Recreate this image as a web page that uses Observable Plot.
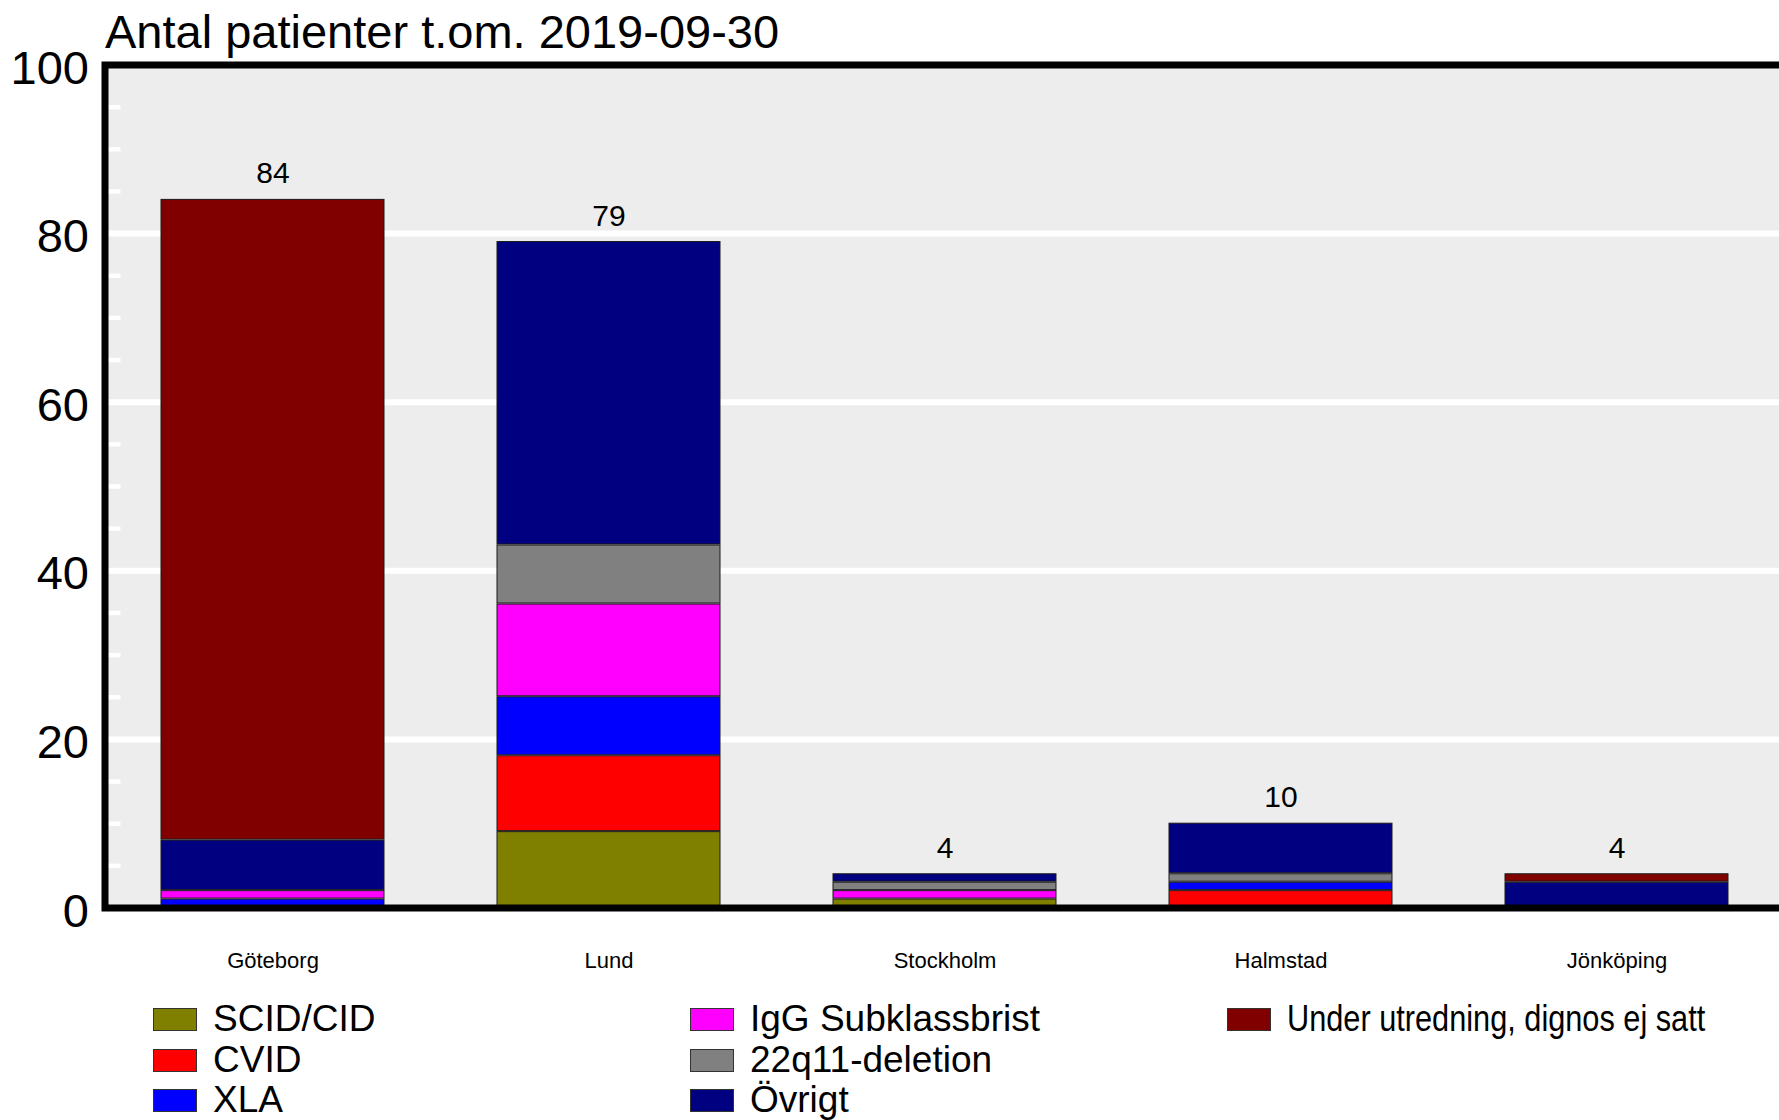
<!DOCTYPE html>
<html><head><meta charset="utf-8">
<script src="https://cdn.jsdelivr.net/npm/d3@7"></script>
<script src="https://cdn.jsdelivr.net/npm/@observablehq/plot@0.6"></script>
<style>
body{margin:0;overflow:hidden;background:#fff;font-family:"Liberation Sans",Arial,sans-serif;color:#000;}
#title{height:52px;box-sizing:border-box;padding-top:8px;padding-left:105px;font-size:47px;line-height:47px;white-space:nowrap;}
#legend{position:relative;height:135px;}
.item{position:absolute;height:40px;display:flex;align-items:center;font-size:37px;white-space:nowrap;}
.sw{width:44px;height:23px;box-sizing:border-box;border:1px solid #333;margin-right:16px;flex:none;}
.lbl{display:inline-block;transform-origin:left center;}
</style></head><body>
<div id="title"></div>
<div id="chart"></div>
<div id="legend"></div>
<script>
const chartTitle = "Antal patienter t.om. 2019-09-30";
const categories = ["Göteborg", "Lund", "Stockholm", "Halmstad", "Jönköping"];
const seriesNames = ["SCID/CID", "CVID", "XLA", "IgG Subklassbrist", "22q11-deletion", "Övrigt", "Under utredning, dignos ej satt"];
const seriesColors = ["#808000", "#ff0000", "#0000ff", "#ff00ff", "#808080", "#000080", "#800000"];
const scidCid   = [0, 9, 1, 0, 0];
const cvid      = [0, 9, 0, 2, 0];
const xla       = [1, 7, 0, 1, 0];
const iggSub    = [1, 11, 1, 0, 0];
const del22q11  = [0, 7, 1, 1, 0];
const ovrigt    = [6, 36, 1, 6, 3];
const underUtr  = [76, 0, 0, 0, 1];
const yTicks = [0, 20, 40, 60, 80, 100];
const gridValues = [20, 40, 60, 80];
const minorTicks = [5, 10, 15, 25, 30, 35, 45, 50, 55, 65, 70, 75, 85, 90, 95];

const seriesValues = [scidCid, cvid, xla, iggSub, del22q11, ovrigt, underUtr];
const rows = [];
seriesNames.forEach((s, j) => categories.forEach((c, i) => {
  const v = seriesValues[j][i];
  if (v > 0) rows.push({city: c, series: s, value: v});
}));
const totalRows = categories.map((c, i) => ({city: c, total: d3.sum(seriesValues, a => a[i])}));

document.getElementById("title").textContent = chartTitle;

const W = 1784, H = 933, mL = 104.5, mT = 12.5, mB = 77.5;
const frameW = W - mL;

const chart = Plot.plot({
  width: W, height: H,
  marginLeft: mL, marginRight: 0, marginTop: mT, marginBottom: mB,
  style: {fontFamily: "'Liberation Sans', Arial, sans-serif", background: "white", overflow: "visible", maxWidth: "none", color: "black"},
  x: {domain: categories, paddingInner: 0.336, paddingOuter: 0.166, label: null},
  y: {domain: [0, 100], label: null},
  color: {domain: seriesNames, range: seriesColors},
  marks: [
    Plot.frame({fill: "#ededed"}),
    Plot.ruleY(gridValues, {stroke: "white", strokeWidth: 6}),
    Plot.tickY(minorTicks, {stroke: "white", strokeWidth: 4.5, insetRight: frameW - 16}),
    Plot.barY(rows, {x: "city", y: "value", fill: "series", order: seriesNames, stroke: "#1a1a1a", strokeWidth: 1, insetBottom: 1}),
    Plot.text(totalRows, {x: "city", y: "total", text: d => String(d.total), dy: -26, fontSize: 30, fill: "black"}),
    Plot.axisY(yTicks, {tickSize: 0, tickPadding: 16, fontSize: 47, dy: 3.5, label: null}),
    Plot.axisX({tickSize: 0, tickPadding: 44, fontSize: 22, label: null}),
    Plot.frame({stroke: "black", strokeWidth: 7})
  ]
});
document.getElementById("chart").appendChild(chart);

const legend = document.getElementById("legend");
const legendTops = [14, 55, 95];
const legendLefts = [153, 690, 1227];
seriesNames.forEach((s, j) => {
  const col = Math.floor(j / 3), row = j % 3;
  const item = document.createElement("div");
  item.className = "item";
  item.style.left = legendLefts[col] + "px";
  item.style.top = legendTops[row] + "px";
  const sw = document.createElement("span");
  sw.className = "sw";
  sw.style.background = seriesColors[j];
  const lbl = document.createElement("span");
  lbl.className = "lbl";
  lbl.textContent = s;
  if (col === 2) lbl.style.transform = "scaleX(0.83)";
  item.appendChild(sw);
  item.appendChild(lbl);
  legend.appendChild(item);
});
</script>
</body></html>
